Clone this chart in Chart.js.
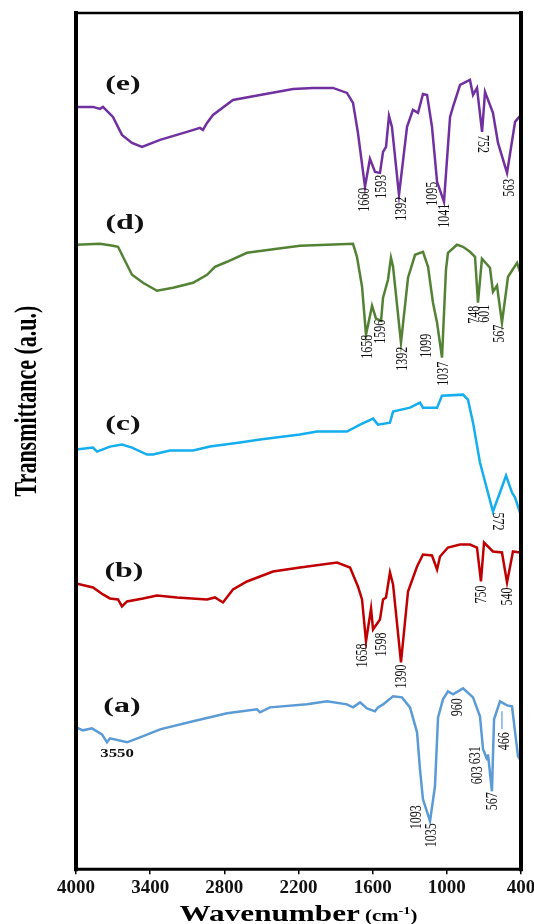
<!DOCTYPE html>
<html>
<head>
<meta charset="utf-8">
<title>FTIR spectra</title>
<script src="https://cdn.jsdelivr.net/npm/chart.js@4.4.1/dist/chart.umd.min.js"></script>
<style>
  html, body { margin: 0; padding: 0; background: #fff; }
  canvas { display: block; }
</style>
</head>
<body>
<canvas id="ftirChart" width="534" height="924"></canvas>
<script>
// Wavenumber ticks (cm-1), axis runs from high to low
const tickValues = [4000, 3400, 2800, 2200, 1600, 1000, 400];

// Spectrum (e)
const waveE = [4000, 3862, 3806, 3782, 3701, 3628, 3547, 3466, 3320, 3102, 2997, 2973, 2940, 2892, 2730, 2511, 2244, 2083, 1921, 1808, 1759, 1719, 1662, 1622, 1581, 1541, 1516, 1492, 1468, 1444, 1387, 1322, 1274, 1233, 1193, 1160, 1120, 1079, 1023, 974, 950, 893, 813, 788, 756, 715, 691, 627, 586, 513, 448, 400];
const transE = [76.3, 76.3, 76.1, 76.3, 75.3, 73.5, 72.7, 72.3, 73.0, 73.8, 74.2, 74.0, 74.7, 75.5, 77.0, 77.5, 78.1, 78.2, 78.2, 77.7, 76.7, 73.7, 68.3, 71.1, 69.8, 69.7, 71.8, 72.3, 75.4, 74.3, 67.5, 74.3, 76.0, 75.7, 77.6, 77.5, 74.3, 68.8, 66.8, 75.3, 76.3, 78.5, 79.0, 77.5, 78.2, 73.8, 77.8, 75.7, 72.7, 69.7, 74.8, 75.5];

// Spectrum (d)
const waveD = [4000, 3806, 3701, 3660, 3620, 3547, 3458, 3345, 3215, 3053, 2940, 2876, 2778, 2617, 2374, 2188, 1969, 1759, 1727, 1686, 1654, 1605, 1573, 1532, 1516, 1476, 1452, 1435, 1371, 1314, 1257, 1193, 1152, 1112, 1079, 1039, 1007, 991, 918, 869, 813, 772, 748, 716, 651, 627, 594, 554, 505, 432, 408];
const transD = [62.5, 62.6, 62.4, 62.3, 61.3, 59.5, 58.7, 57.9, 58.2, 58.7, 59.5, 60.3, 60.8, 61.7, 62.1, 62.4, 62.5, 62.6, 61.3, 58.3, 53.5, 56.4, 55.1, 54.9, 57.2, 59.0, 61.2, 60.3, 52.7, 59.2, 61.5, 61.8, 60.3, 56.7, 54.7, 51.2, 60.0, 61.7, 62.5, 62.3, 61.8, 61.3, 56.7, 61.1, 60.2, 57.8, 58.4, 54.7, 59.3, 60.7, 59.8];

// Spectrum (c)
const waveC = [4000, 3862, 3830, 3725, 3628, 3547, 3426, 3377, 3240, 3053, 2916, 2673, 2511, 2188, 2050, 1808, 1702, 1597, 1557, 1460, 1435, 1298, 1217, 1193, 1079, 1039, 869, 829, 788, 732, 627, 570, 521, 473, 448, 408];
const transC = [42.0, 42.2, 41.8, 42.3, 42.5, 42.2, 41.5, 41.5, 41.9, 41.9, 42.3, 42.7, 43.0, 43.5, 43.8, 43.8, 44.5, 45.1, 44.5, 44.7, 45.8, 46.2, 46.7, 46.2, 46.2, 47.4, 47.5, 47.0, 44.7, 40.7, 35.8, 37.7, 39.4, 37.7, 37.2, 35.7];

// Spectrum (b)
const waveB = [4000, 3862, 3782, 3725, 3660, 3628, 3587, 3458, 3345, 3183, 2940, 2876, 2811, 2730, 2617, 2406, 2188, 1888, 1783, 1719, 1686, 1654, 1613, 1597, 1541, 1516, 1492, 1460, 1435, 1371, 1314, 1241, 1193, 1120, 1079, 1055, 991, 893, 813, 756, 724, 699, 627, 554, 513, 465, 408];
const transB = [28.6, 28.2, 27.5, 27.1, 27.0, 26.3, 26.8, 27.1, 27.4, 27.2, 27.0, 27.2, 26.7, 28.0, 28.8, 29.8, 30.2, 30.7, 30.2, 28.3, 27.0, 22.8, 26.1, 24.0, 25.0, 27.0, 27.2, 29.7, 28.5, 20.7, 27.8, 30.3, 31.5, 31.4, 30.0, 31.3, 32.2, 32.5, 32.5, 32.2, 28.8, 32.7, 31.8, 31.7, 28.7, 31.8, 31.7];

// Spectrum (a)
const waveA = [4000, 3943, 3871, 3790, 3749, 3725, 3587, 3482, 3320, 3053, 2778, 2536, 2511, 2431, 2131, 1969, 1808, 1759, 1702, 1646, 1581, 1557, 1516, 1435, 1363, 1298, 1241, 1217, 1193, 1136, 1096, 1071, 1031, 991, 950, 869, 788, 732, 707, 675, 667, 635, 618, 570, 513, 473, 424, 408];
const transA = [14.2, 13.9, 14.1, 13.5, 12.7, 13.1, 12.7, 13.2, 14.0, 14.8, 15.6, 16.0, 15.7, 16.2, 16.5, 16.8, 16.5, 16.2, 16.7, 16.1, 15.8, 16.2, 16.5, 17.3, 17.2, 16.2, 13.7, 10.0, 7.0, 4.8, 8.3, 15.2, 17.0, 17.8, 17.5, 18.1, 17.2, 15.3, 12.0, 11.0, 11.5, 7.8, 15.0, 16.8, 16.4, 16.3, 11.3, 11.0];

// Curve names and where they sit (wavenumber, a.u.)
const curveNames = ['(e)', '(d)', '(c)', '(b)', '(a)'];
const curveNameWave = [3620, 3604, 3620, 3612, 3628];
const curveNameLevel = [78.5, 64.6, 44.5, 29.8, 16.3];

// Peak annotations: text, wavenumber, level, r (1 = rotated the other way, 0 = flat)
const peaksE = [
  { t: '1660', x: 1662, y: 67.0 }, { t: '1593', x: 1524, y: 68.3 }, { t: '1392', x: 1363, y: 66.1 },
  { t: '1095', x: 1112, y: 67.6 }, { t: '1041', x: 1015, y: 65.4 }, { t: '752', x: 715, y: 72.6, r: 1 },
  { t: '563', x: 489, y: 68.2 }
];
const peaksD = [
  { t: '1658', x: 1638, y: 52.3 }, { t: '1596', x: 1532, y: 53.8 }, { t: '1392', x: 1355, y: 51.1 },
  { t: '1099', x: 1160, y: 52.4 }, { t: '1037', x: 1023, y: 49.6 }, { t: '748', x: 772, y: 55.5 },
  { t: '601', x: 691, y: 55.6 }, { t: '567', x: 570, y: 53.6 }
];
const peaksC = [{ t: '572', x: 594, y: 34.8, r: 1 }];
const peaksB = [
  { t: '1658', x: 1678, y: 21.4 }, { t: '1598', x: 1524, y: 22.5 }, { t: '1390', x: 1363, y: 19.3 },
  { t: '750', x: 715, y: 27.5 }, { t: '540', x: 505, y: 27.3 }
];
const peaksA = [
  { t: '3550', x: 3668, y: 11.5, r: 0 }, { t: '1093', x: 1241, y: 5.2 }, { t: '1035', x: 1120, y: 3.4 },
  { t: '960', x: 910, y: 16.2 }, { t: '631', x: 764, y: 11.4 }, { t: '603', x: 748, y: 9.4 },
  { t: '567', x: 627, y: 6.8 }, { t: '466', x: 529, y: 12.8 }
];
// small marker stroke above the 466 label
const marker466 = { x: 554, y1: 15.8, y2: 14.0 };

const colors = ['#7030A0', '#548235', '#14ADEE', '#C00000', '#5B9BD5'];
const serif = '"Liberation Serif", "Times New Roman", serif';

// build {x, y} points for the line datasets
function toPoints(waves, values) {
  return waves.map((w, i) => ({ x: w, y: values[i] }));
}

const series = [
  toPoints(waveE, transE),
  toPoints(waveD, transD),
  toPoints(waveC, transC),
  toPoints(waveB, transB),
  toPoints(waveA, transA)
];

// draw a (possibly rotated) text, stretched horizontally like the original figure
function drawText(ctx, text, px, py, font, rot, stretch, color, align) {
  ctx.save();
  ctx.translate(px, py);
  ctx.scale(stretch, 1);
  ctx.rotate(rot);
  ctx.font = font;
  ctx.fillStyle = color;
  ctx.textAlign = align || 'center';
  ctx.textBaseline = 'middle';
  ctx.fillText(text, 0, 0);
  ctx.restore();
}

const annotations = {
  id: 'annotations',
  afterDatasetsDraw(chart) {
    const { ctx, scales: { x, y } } = chart;

    // curve names
    curveNames.forEach((name, i) => {
      drawText(ctx, name, x.getPixelForValue(curveNameWave[i]), y.getPixelForValue(curveNameLevel[i]),
        'bold 20px ' + serif, 0, 1.6, '#111');
    });

    // peak numbers
    [peaksE, peaksD, peaksC, peaksB, peaksA].forEach(list => {
      list.forEach(p => {
        const rot = p.r === 0 ? 0 : (p.r === 1 ? Math.PI / 2 : -Math.PI / 2);
        const font = p.r === 0 ? 'bold 12px ' + serif : '12px ' + serif;
        drawText(ctx, p.t, x.getPixelForValue(p.x), y.getPixelForValue(p.y), font, rot, 1.4, '#111');
      });
    });

    // the little stroke above 466
    ctx.save();
    ctx.strokeStyle = colors[4];
    ctx.lineWidth = 1.2;
    ctx.beginPath();
    ctx.moveTo(x.getPixelForValue(marker466.x), y.getPixelForValue(marker466.y1));
    ctx.lineTo(x.getPixelForValue(marker466.x), y.getPixelForValue(marker466.y2));
    ctx.stroke();
    ctx.restore();
  }
};

const frameAndTitles = {
  id: 'frameAndTitles',
  afterDraw(chart) {
    const { ctx, chartArea: a } = chart;
    ctx.save();
    ctx.strokeStyle = '#000';
    ctx.lineCap = 'square';
    // box: thick sides, thinner top
    const side = (x1, y1, x2, y2, w) => {
      ctx.lineWidth = w;
      ctx.beginPath();
      ctx.moveTo(x1, y1);
      ctx.lineTo(x2, y2);
      ctx.stroke();
    };
    side(a.left, a.top, a.right, a.top, 2.5);
    side(a.left, a.bottom, a.right, a.bottom, 3);
    side(a.left, a.top, a.left, a.bottom, 4);
    side(a.right, a.top, a.right, a.bottom, 4);
    ctx.restore();

    // y title
    drawText(ctx, 'Transmittance (a.u.)', 28, 401, 'bold 22px ' + serif, -Math.PI / 2, 1.4, '#000');

    // x title: "Wavenumber" + smaller "(cm-1)" with raised -1
    const stretch = 1.3;
    const bigFont = 'bold 24px ' + serif;
    const smallFont = 'bold 16px ' + serif;
    const supFont = 'bold 11px ' + serif;
    ctx.save();
    ctx.font = bigFont;
    const w1 = ctx.measureText('Wavenumber').width;
    ctx.font = smallFont;
    const w2 = ctx.measureText('(cm').width;
    const w4 = ctx.measureText(')').width;
    ctx.font = supFont;
    const w3 = ctx.measureText('-1').width;
    const total = (w1 + 4 + w2 + w3 + w4) * stretch;
    let px = (a.left + a.right) / 2 - total / 2;
    const base = 921;
    ctx.fillStyle = '#000';
    ctx.textBaseline = 'alphabetic';
    ctx.textAlign = 'left';
    const put = (text, font, width, dy) => {
      ctx.save();
      ctx.translate(px, base + dy);
      ctx.scale(stretch, 1);
      ctx.font = font;
      ctx.fillText(text, 0, 0);
      ctx.restore();
      px += width * stretch;
    };
    put('Wavenumber', bigFont, w1 + 4, 0);
    put('(cm', smallFont, w2, 0);
    put('-1', supFont, w3, -7);
    put(')', smallFont, w4, 0);
    ctx.restore();
  }
};

new Chart(document.getElementById('ftirChart'), {
  type: 'line',
  data: {
    datasets: series.map((pts, i) => ({
      label: curveNames[i],
      data: pts,
      borderColor: colors[i],
      borderWidth: 2.5,
      pointRadius: 0,
      tension: 0,
      fill: false
    }))
  },
  options: {
    responsive: false,
    animation: false,
    devicePixelRatio: 1,
    layout: { padding: { left: 76, right: 13, top: 13, bottom: 23 } },
    scales: {
      x: {
        type: 'linear',
        reverse: true,
        min: 400,
        max: 4000,
        afterBuildTicks: scale => { scale.ticks = tickValues.map(v => ({ value: v })); },
        // let the end labels hang over the edge instead of shrinking the plot
        afterFit: scale => { scale.paddingLeft = 0; scale.paddingRight = 0; },
        ticks: {
          autoSkip: false,
          maxRotation: 0,
          padding: 2,
          color: '#111',
          font: { family: serif, size: 19, weight: 'bold' },
          callback: value => String(value)
        },
        grid: { drawOnChartArea: false, drawTicks: true, tickLength: 5, color: '#000', lineWidth: 1.5 },
        border: { display: false }
      },
      y: {
        display: false,
        min: 0,
        max: 85.7
      }
    },
    plugins: {
      legend: { display: false },
      tooltip: { enabled: false },
      title: { display: false }
    }
  },
  plugins: [annotations, frameAndTitles]
});
</script>
</body>
</html>
